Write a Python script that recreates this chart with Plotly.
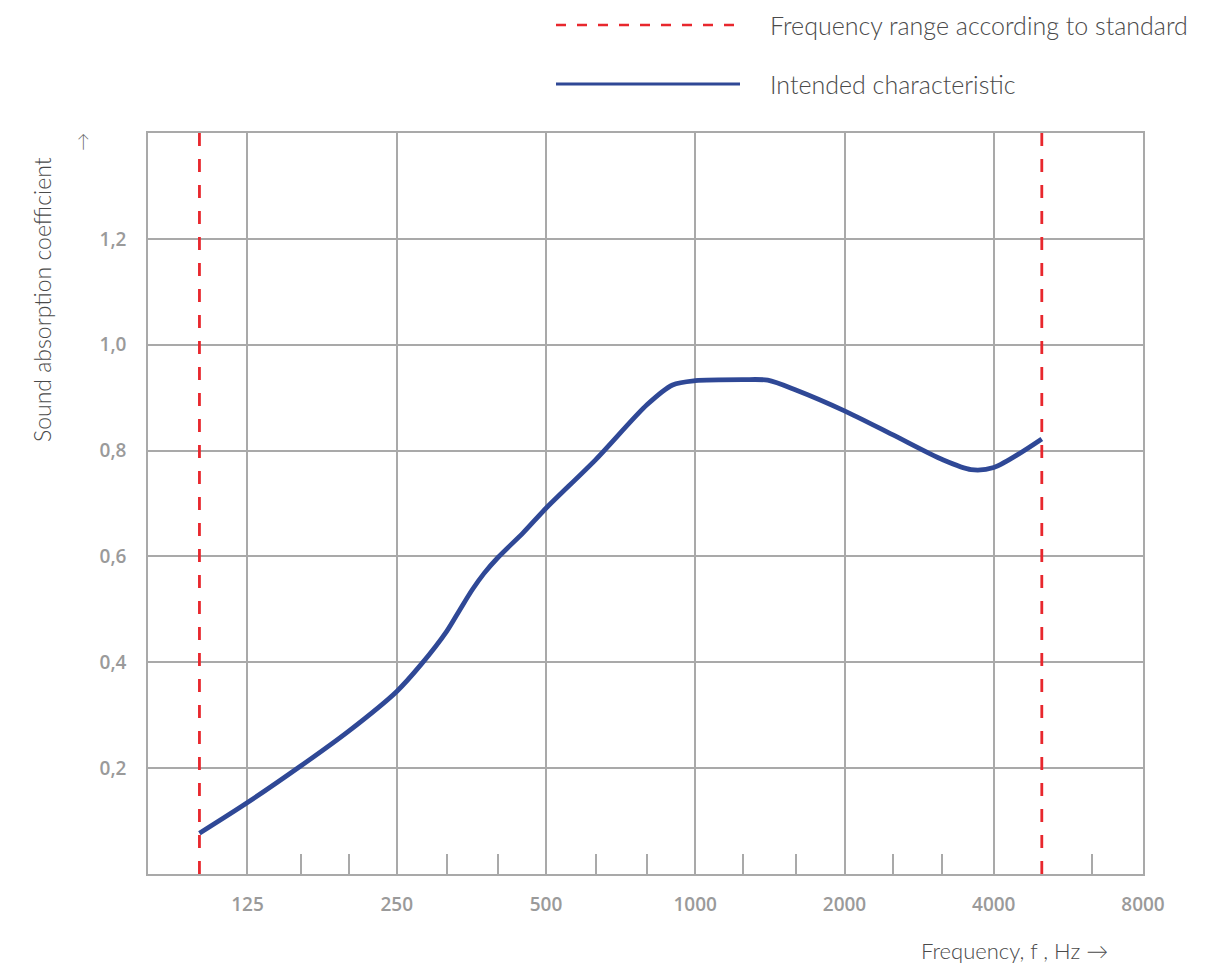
import plotly.graph_objects as go
import math

# ---- data ----
freq_hz = [100, 125, 160, 200, 250, 280, 315, 335, 355, 375, 400, 450, 500, 630, 800, 900, 1000, 1250, 1400, 1600, 2000, 2500, 3150, 3600, 4000, 5000]
absorption = [0.077, 0.135, 0.204, 0.270, 0.345, 0.396, 0.458, 0.499, 0.537, 0.568, 0.598, 0.645, 0.691, 0.783, 0.887, 0.924, 0.932, 0.934, 0.933, 0.914, 0.875, 0.830, 0.783, 0.764, 0.768, 0.822]
standard_range_hz = [100, 5000]
y_span = [0.0, 1.4]
x_span_hz = [78.75, 8000]

x_tickvals = [125, 250, 500, 1000, 2000, 4000, 8000]
x_ticktext = ["125", "250", "500", "1000", "2000", "4000", "8000"]
x_minor_vals = [160, 200, 315, 400, 630, 800, 1250, 1600, 2500, 3150, 6300]
y_tickvals = [0.2, 0.4, 0.6, 0.8, 1.0, 1.2]
y_ticktext = ["0,2", "0,4", "0,6", "0,8", "1,0", "1,2"]

legend_labels = ["Frequency range according to standard", "Intended characteristic"]

# ---- style ----
OFF = 8  # page body margin
W, H = 1230 - OFF, 968 - OFF
ML, MR, MT, MB = 148 - OFF, 87, 133 - OFF, 94
BLUE = "#2f4896"
RED = "#e8272d"
GRID = "#a9a9a9"
TICKTXT = "#9a9a9a"
TXT = "#4a4a4a"
FONT = "Open Sans"

def px_x(p):
    return (p - OFF - ML) / (W - ML - MR)

def px_y(p):
    return (H - MB - (p - OFF)) / (H - MT - MB)

fig = go.Figure()
fig.add_trace(go.Scatter(
    x=freq_hz, y=absorption, mode="lines",
    line=dict(color=BLUE, width=4.8, shape="spline", smoothing=0.8),
    showlegend=False, hoverinfo="x+y"))
for f in standard_range_hz:
    fig.add_trace(go.Scatter(
        x=[f, f], y=y_span[::-1], mode="lines",
        line=dict(color=RED, width=2.8, dash="13px,13px"),
        showlegend=False, hoverinfo="skip"))

fig.update_xaxes(
    type="log", range=[math.log10(v) for v in x_span_hz],
    tickmode="array", tickvals=x_tickvals, ticktext=x_ticktext,
    showgrid=True, gridcolor=GRID, gridwidth=1.5,
    showline=True, linecolor=GRID, linewidth=1.5, mirror=True,
    ticks="", ticklabelstandoff=12,
    tickfont=dict(family=FONT, size=19, color=TICKTXT, weight=600),
    minor=dict(tickmode="array", tickvals=x_minor_vals, ticks="inside",
               ticklen=20, tickwidth=1.5, tickcolor=GRID, showgrid=False),
    zeroline=False)
fig.update_yaxes(
    range=y_span,
    tickmode="array", tickvals=y_tickvals, ticktext=y_ticktext,
    showgrid=True, gridcolor=GRID, gridwidth=1.5,
    showline=True, linecolor=GRID, linewidth=1.5, mirror=True,
    ticks="", ticklabelstandoff=16,
    tickfont=dict(family=FONT, size=19, color=TICKTXT, weight=600),
    zeroline=False)

# manual legend
legend_y = [25, 84]
shapes = [
    dict(type="line", xref="paper", yref="paper",
         x0=px_x(556), x1=px_x(740), y0=px_y(legend_y[0]), y1=px_y(legend_y[0]),
         line=dict(color=RED, width=2.5, dash="10px,11px")),
    dict(type="line", xref="paper", yref="paper",
         x0=px_x(556), x1=px_x(740), y0=px_y(legend_y[1]), y1=px_y(legend_y[1]),
         line=dict(color=BLUE, width=3)),
]
annotations = []
for lbl, yy in zip(legend_labels, legend_y):
    annotations.append(dict(
        text=lbl, xref="paper", yref="paper", x=px_x(768), y=px_y(yy),
        xanchor="left", yanchor="middle", showarrow=False,
        font=dict(family="Lato", size=25, color=TXT, weight=300)))

annotations.append(dict(
    text="Sound absorption coefficient", xref="paper", yref="paper",
    x=px_x(42), y=px_y(300), textangle=-90, xanchor="center", yanchor="middle",
    showarrow=False, font=dict(family="Lato", size=23, color=TXT, weight=300)))
annotations.append(dict(
    text="→", xref="paper", yref="paper",
    x=px_x(82), y=px_y(142), textangle=-90, xanchor="center", yanchor="middle",
    showarrow=False, font=dict(family="Lato", size=18, color="#666666", weight=300)))
annotations.append(dict(
    text="Frequency, f , Hz →", xref="paper", yref="paper",
    x=px_x(1110), y=px_y(950), xanchor="right", yanchor="middle",
    showarrow=False, font=dict(family="Lato", size=22, color=TXT, weight=300)))

fig.update_layout(
    width=W, height=H,
    margin=dict(l=ML, r=MR, t=MT, b=MB),
    paper_bgcolor="white", plot_bgcolor="white",
    shapes=shapes, annotations=annotations,
    showlegend=False)

fig.write_html("out.html")
